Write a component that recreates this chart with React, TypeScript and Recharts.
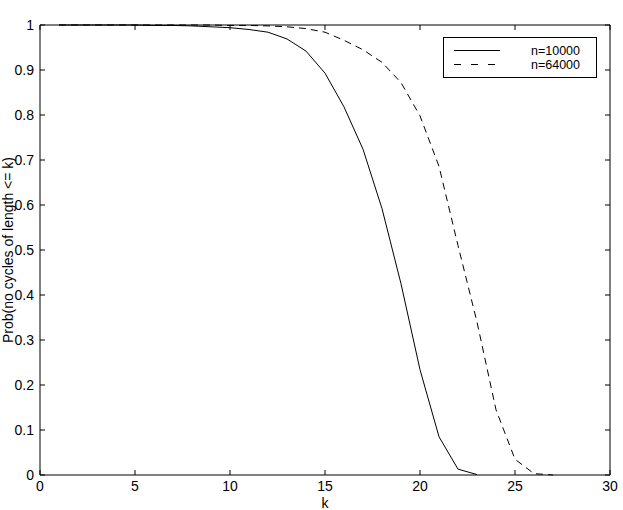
import React from 'react';
import { LineChart, Line, XAxis, YAxis, Legend, ReferenceLine } from 'recharts';

// k values and probabilities
const kValues = [1, 2, 3, 4, 5, 6, 7, 8, 9, 10, 11, 12, 13, 14, 15, 16, 17, 18, 19, 20, 21, 22, 23, 24, 25, 26, 27];
const n10000 = [1, 1, 1, 1, 1, 0.999, 0.999, 0.998, 0.996, 0.994, 0.99, 0.984, 0.969, 0.942, 0.893, 0.818, 0.724, 0.592, 0.425, 0.234, 0.085, 0.013, 0.001, null, null, null, null];
const n64000 = [1, 1, 1, 1, 1, 1, 1, 1, 1, 0.999, 0.999, 0.998, 0.996, 0.992, 0.984, 0.966, 0.945, 0.917, 0.872, 0.798, 0.686, 0.51, 0.34, 0.145, 0.035, 0.003, 0];

const xTicks = [0, 5, 10, 15, 20, 25, 30];
const yTicks = [0, 0.1, 0.2, 0.3, 0.4, 0.5, 0.6, 0.7, 0.8, 0.9, 1];

const data = kValues.map((k, i) => ({ k, a: n10000[i], b: n64000[i] }));

const W = 623;
const H = 510;
const PLOT_TOP = 25;
const PLOT_BOTTOM = 475;
const PLOT_LEFT = 40;
const PLOT_RIGHT = 610;
const FONT = '"Liberation Sans", Arial, Helvetica, sans-serif';
const FS = 14;

const XTick = (props: any) => {
  const { x, payload } = props;
  return (
    <g>
      <line x1={x} x2={x} y1={PLOT_BOTTOM} y2={PLOT_BOTTOM - 5} stroke="#000" />
      <line x1={x} x2={x} y1={PLOT_TOP} y2={PLOT_TOP + 5} stroke="#000" />
      <text x={x} y={PLOT_BOTTOM + 16} textAnchor="middle" fontSize={FS} fontFamily={FONT} fill="#000">
        {payload.value}
      </text>
    </g>
  );
};

const YTick = (props: any) => {
  const { y, payload } = props;
  return (
    <g>
      <line x1={PLOT_LEFT} x2={PLOT_LEFT + 5} y1={y} y2={y} stroke="#000" />
      <line x1={PLOT_RIGHT} x2={PLOT_RIGHT - 5} y1={y} y2={y} stroke="#000" />
      <text x={PLOT_LEFT - 6} y={y + 5} textAnchor="end" fontSize={FS} fontFamily={FONT} fill="#000">
        {String(payload.value)}
      </text>
    </g>
  );
};

const YLabel = (props: any) => {
  const { viewBox } = props;
  const cy = viewBox.y + viewBox.height / 2;
  return (
    <text
      x={13}
      y={cy}
      transform={`rotate(-90, 13, ${cy})`}
      textAnchor="middle"
      fontSize={FS}
      fontFamily={FONT}
      fill="#000"
    >
      Prob(no cycles of length &lt;= k)
    </text>
  );
};

const XLabel = (props: any) => {
  const { viewBox } = props;
  const cx = viewBox.x + viewBox.width / 2;
  return (
    <text x={cx} y={PLOT_BOTTOM + 33} textAnchor="middle" fontSize={FS} fontFamily={FONT} fill="#000">
      k
    </text>
  );
};

const LegendBox = () => (
  <svg width={154} height={41} style={{ display: 'block' }}>
    <rect x={0.5} y={0.5} width={153} height={40} fill="#fff" stroke="#000" />
    <line x1={11} x2={57} y1={13.5} y2={13.5} stroke="#000" />
    <line x1={11} x2={57} y1={27.5} y2={27.5} stroke="#000" strokeDasharray="7 10" />
    <text x={88} y={18} fontSize={12.5} fontFamily={FONT} fill="#000">n=10000</text>
    <text x={88} y={32} fontSize={12.5} fontFamily={FONT} fill="#000">n=64000</text>
  </svg>
);

export default function App() {
  return (
    <div style={{ width: W, height: H, background: '#fff' }}>
      <style>{`body{margin:0}`}</style>
      <LineChart
        width={W}
        height={H}
        data={data}
        margin={{ top: PLOT_TOP, right: W - PLOT_RIGHT, left: 0, bottom: 0 }}
      >
        <XAxis
          dataKey="k"
          type="number"
          domain={[0, 30]}
          ticks={xTicks}
          height={H - PLOT_BOTTOM}
          tickLine={false}
          tickSize={0}
          axisLine={{ stroke: '#000' }}
          tick={<XTick />}
          interval={0}
          label={<XLabel />}
        />
        <YAxis
          type="number"
          domain={[0, 1]}
          ticks={yTicks}
          width={PLOT_LEFT}
          tickLine={false}
          tickSize={0}
          axisLine={{ stroke: '#000' }}
          tick={<YTick />}
          interval={0}
          label={<YLabel />}
        />
        <ReferenceLine y={1} stroke="#000" strokeWidth={1} />
        <ReferenceLine x={30} stroke="#000" strokeWidth={1} />
        <Legend
          layout="vertical"
          align="center"
          verticalAlign="middle"
          wrapperStyle={{ left: 443, top: 37, width: 154, height: 41 }}
          content={() => <LegendBox />}
        />
        <Line dataKey="a" name="n=10000" stroke="#000" strokeWidth={1} dot={false} isAnimationActive={false} />
        <Line dataKey="b" name="n=64000" stroke="#000" strokeWidth={1} strokeDasharray="7 5" dot={false} isAnimationActive={false} />
      </LineChart>
    </div>
  );
}
